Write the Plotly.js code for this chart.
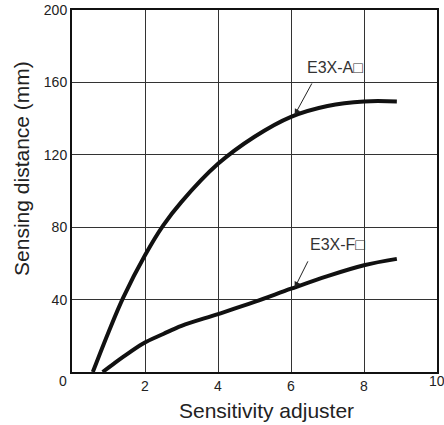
<!DOCTYPE html>
<html>
<head>
<meta charset="utf-8">
<script src="https://cdn.plot.ly/plotly-3.0.1.min.js"></script>
<style>
html,body{margin:0;padding:0;background:#fff;}
#chart{width:444px;height:425px;}
</style>
</head>
<body>
<div id="chart"></div>
<script>
// Sensitivity adjuster position (x) vs sensing distance in mm (y)
const adjusterA = [0.57, 1.0, 1.4, 2.0, 2.5, 3.0, 4.0, 5.0, 6.0, 7.0, 8.0, 8.9];
const distanceA = [0, 22, 41, 64.5, 81, 94, 115, 130, 141, 147, 149.5, 149.5];
const adjusterF = [0.84, 1.13, 1.41, 1.95, 2.5, 3.0, 4.0, 5.0, 6.0, 7.0, 8.0, 8.9];
const distanceF = [0, 4.4, 8.5, 15.8, 21, 25.5, 32, 38.7, 46, 53, 59, 62.5];
const labelA = "E3X-A\u25A1";
const labelF = "E3X-F\u25A1";
const xTicks = [2, 4, 6, 8];
const yTicks = [40, 80, 120, 160, 200];
const xTitle = 'Sensitivity adjuster';
const yTitle = 'Sensing distance (mm)';

const lineStyle = {color: '#111', width: 4, shape: 'spline', smoothing: 1};
const traces = [
  {x: adjusterA, y: distanceA, mode: 'lines', line: lineStyle, name: labelA, hoverinfo: 'skip'},
  {x: adjusterF, y: distanceF, mode: 'lines', line: lineStyle, name: labelF, hoverinfo: 'skip'}
];

const fontFam = 'Liberation Sans, Arial, sans-serif';
const tickFont = {size: 14, color: '#222'};
const layout = {
  width: 444, height: 425,
  margin: {l: 72, r: 7, t: 10, b: 53, pad: 0},
  paper_bgcolor: '#fff', plot_bgcolor: '#fff',
  showlegend: false,
  font: {family: fontFam, color: '#222'},
  xaxis: {
    range: [0, 10], tickvals: xTicks, ticks: '',
    showgrid: true, gridcolor: '#333', gridwidth: 1,
    showline: true, linecolor: '#111', linewidth: 2, mirror: true,
    zeroline: false, tickfont: tickFont,
    automargin: false, fixedrange: true
  },
  yaxis: {
    range: [0, 200], tickvals: yTicks, ticks: '',
    showgrid: true, gridcolor: '#333', gridwidth: 1,
    showline: true, linecolor: '#111', linewidth: 2, mirror: true,
    zeroline: false, tickfont: tickFont,
    automargin: false, fixedrange: true
  },
  annotations: [
    {x: -0.025, y: -0.025, xref: 'paper', yref: 'paper', text: '0', showarrow: false,
     font: tickFont, xanchor: 'center', yanchor: 'middle'},
    {x: 1.0, y: -0.025, xref: 'paper', yref: 'paper', text: '10', showarrow: false,
     font: tickFont, xanchor: 'center', yanchor: 'middle'},
    {x: 0.534, y: -0.105, xref: 'paper', yref: 'paper', text: xTitle, showarrow: false,
     font: {size: 21, color: '#222'}, xanchor: 'center', yanchor: 'middle'},
    {x: -0.14, y: 0.5635, xref: 'paper', yref: 'paper', text: yTitle, showarrow: false,
     textangle: -90, font: {size: 21, color: '#222'}, xanchor: 'center', yanchor: 'middle'},
    {x: 6.38, y: 168, text: labelA, showarrow: false, xanchor: 'left', yanchor: 'middle',
     font: {size: 16, color: '#333'}},
    {x: 6.47, y: 70.2, text: labelF, showarrow: false, xanchor: 'left', yanchor: 'middle',
     font: {size: 16, color: '#333'}},
    {x: 6.1, y: 142, text: '', showarrow: true, ax: 18, ay: -33,
     arrowhead: 2, arrowsize: 1.2, arrowwidth: 1, arrowcolor: '#222'},
    {x: 6.1, y: 46.5, text: '', showarrow: true, ax: 14, ay: -28,
     arrowhead: 2, arrowsize: 1.2, arrowwidth: 1, arrowcolor: '#222'}
  ]
};

Plotly.newPlot('chart', traces, layout, {staticPlot: true, displayModeBar: false});
</script>
</body>
</html>
